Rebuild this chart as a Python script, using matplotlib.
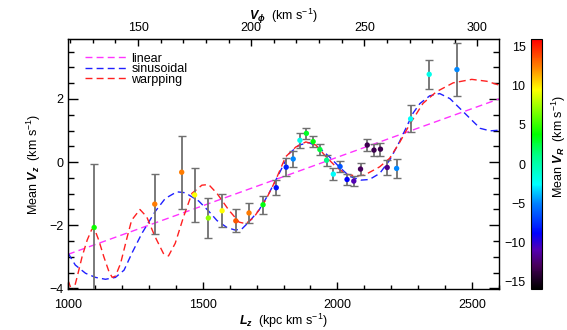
import numpy as np
import matplotlib
matplotlib.use("Agg")
import matplotlib.pyplot as plt
from matplotlib.colors import LinearSegmentedColormap, Normalize
from matplotlib.ticker import MultipleLocator

plt.rcParams['font.family'] = ['Liberation Sans', 'DejaVu Sans']
plt.rcParams['mathtext.fontset'] = 'custom'
plt.rcParams['mathtext.rm'] = 'Liberation Sans'
plt.rcParams['mathtext.it'] = 'Liberation Sans:italic:bold'
plt.rcParams['mathtext.bf'] = 'Liberation Sans:bold'

# data points: angular momentum bins, mean Vz, error, mean VR (colour)
lz = [1097, 1322, 1422, 1470, 1521, 1572, 1623, 1672, 1724, 1773,
      1810, 1836, 1861, 1885, 1910, 1935, 1960, 1985, 2010, 2036,
      2061, 2086, 2111, 2136, 2160, 2185, 2220, 2272, 2341, 2444]
vz = [-2.07, -1.33, -0.32, -1.04, -1.77, -1.54, -1.86, -1.61, -1.35, -0.81,
      -0.16, 0.10, 0.69, 0.91, 0.65, 0.40, 0.06, -0.38, -0.14, -0.55,
      -0.60, -0.22, 0.54, 0.38, 0.41, -0.17, -0.20, 1.37, 2.78, 2.93]
vz_err = [2.0, 0.96, 1.16, 0.85, 0.62, 0.52, 0.36, 0.31, 0.28, 0.24,
          0.29, 0.24, 0.23, 0.18, 0.18, 0.17, 0.18, 0.18, 0.17, 0.17,
          0.17, 0.20, 0.18, 0.20, 0.21, 0.25, 0.29, 0.43, 0.46, 0.85]
vr = [4.0, 12.5, 12.5, 9.5, 7.0, 9.5, 13.5, 12.5, 3.5, -8.5,
      -8.0, -5.0, -2.0, 3.0, 3.5, 2.5, 1.0, -2.5, -6.5, -9.0,
      -11.0, -13.0, -13.5, -13.5, -13.5, -12.0, -5.0, -2.5, -2.0, -5.0]

# model curves
lin_lz = [1000, 2600]
lin_vz = [-2.92, 2.0]

sin_lz = [1000, 1027, 1065, 1102, 1139, 1176, 1208, 1239, 1274, 1323,
          1361, 1404, 1435, 1485, 1522, 1553, 1590, 1620, 1645, 1672,
          1709, 1746, 1784, 1821, 1858, 1895, 1933, 1970, 2007, 2045,
          2088, 2119, 2157, 2194, 2231, 2256, 2281, 2306, 2343, 2380,
          2418, 2455, 2493, 2530, 2567, 2600]
sin_vz = [-2.88, -3.26, -3.52, -3.65, -3.71, -3.65, -3.42, -2.85, -2.26, -1.57,
          -1.15, -0.94, -0.97, -1.23, -1.55, -1.85, -2.07, -2.15, -2.12, -1.89,
          -1.52, -0.99, -0.36, 0.27, 0.54, 0.62, 0.45, 0.17, -0.15, -0.45,
          -0.57, -0.55, -0.36, 0.06, 0.65, 1.1, 1.55, 1.85, 2.1, 2.17,
          2.01, 1.70, 1.38, 1.07, 0.99, 1.01]

warp_lz = [1000, 1018, 1034, 1052, 1071, 1087, 1096, 1114, 1133, 1152,
           1164, 1176, 1195, 1220, 1236, 1267, 1292, 1323, 1354, 1373,
           1398, 1429, 1460, 1497, 1522, 1553, 1597, 1635, 1660, 1690,
           1734, 1771, 1808, 1846, 1883, 1920, 1958, 1995, 2032, 2070,
           2101, 2157, 2194, 2231, 2269, 2318, 2368, 2430, 2499, 2555, 2600]
warp_vz = [-3.75, -4.15, -3.63, -3.0, -2.47, -2.15, -2.07, -2.47, -3.0, -3.47,
           -3.65, -3.61, -3.21, -2.36, -1.84, -1.5, -1.73, -2.36, -2.89, -2.97,
           -2.57, -1.73, -0.99, -0.73, -0.71, -0.99, -1.52, -1.9, -1.95, -1.75,
           -1.2, -0.57, 0.17, 0.48, 0.64, 0.54, 0.17, -0.15, -0.38, -0.44,
           -0.41, -0.15, 0.12, 0.62, 1.2, 1.86, 2.23, 2.51, 2.62, 2.56, 2.44]

R0 = 8.4  # kpc, Lz = R0 * Vphi

cmap = LinearSegmentedColormap.from_list('idl_rainbow', [
    (0.0, (0.0, 0.0, 0.0)),
    (0.094, (0.28, 0.0, 0.36)),
    (0.156, (0.33, 0.0, 0.70)),
    (0.22, (0.0, 0.0, 1.0)),
    (0.34, (0.0, 0.5, 1.0)),
    (0.42, (0.0, 1.0, 1.0)),
    (0.53, (0.0, 1.0, 0.55)),
    (0.62, (0.0, 1.0, 0.0)),
    (0.80, (1.0, 1.0, 0.0)),
    (0.89, (1.0, 0.5, 0.0)),
    (1.0, (1.0, 0.0, 0.0))])
norm = Normalize(vmin=-16, vmax=16)

fig = plt.figure(figsize=(5.67, 3.30), dpi=100)
ax = fig.add_axes([0.120, 0.124, 0.760, 0.758])

ax.plot(lin_lz, lin_vz, color='#ff33ff', lw=1.0, dashes=(5, 3), label='linear')
ax.plot(sin_lz, sin_vz, color='#2020ff', lw=1.0, dashes=(5, 3), label='sinusoidal')
ax.plot(warp_lz, warp_vz, color='#ff2020', lw=1.0, dashes=(5, 3), label='warpping')

eb = ax.errorbar(lz, vz, yerr=vz_err, fmt='none', ecolor='#707070',
                 elinewidth=1.3, capsize=3, capthick=1.0, zorder=3)
for cap in eb[1]:
    cap.set_color('#222222')
ax.scatter(lz, vz, c=vr, cmap=cmap, norm=norm, s=15, edgecolors='none', zorder=4)

ax.set_xlim(1000, 2600)
ax.set_ylim(-4.02, 3.9)
ax.xaxis.set_major_locator(MultipleLocator(500))
ax.xaxis.set_minor_locator(MultipleLocator(100))
ax.yaxis.set_major_locator(MultipleLocator(2))
ax.yaxis.set_minor_locator(MultipleLocator(0.5))
ax.tick_params(which='both', direction='in', top=False, right=True, labelsize=9, width=1)
ax.tick_params(axis='y', which='major', length=7)
ax.tick_params(axis='y', which='minor', length=4)
ax.tick_params(axis='x', which='major', length=5, pad=7)
ax.tick_params(axis='x', which='minor', length=3, pad=7)
for s in ax.spines.values():
    s.set_linewidth(1.0)

ax.set_xlabel(r'$L_z$  (kpc km s$^{-1}$)', fontsize=9, labelpad=1)
ax.set_ylabel(r'Mean $V_z$  (km s$^{-1}$)', fontsize=9, labelpad=4)

top = ax.secondary_xaxis('top', functions=(lambda x: x / R0, lambda v: v * R0))
top.xaxis.set_major_locator(MultipleLocator(50))
top.xaxis.set_minor_locator(MultipleLocator(10))
top.tick_params(which='both', direction='in', labelsize=9, width=1)
top.tick_params(which='major', length=5)
top.tick_params(which='minor', length=3)
top.set_xlabel(r'$V_\phi$  (km s$^{-1}$)', fontsize=9, labelpad=1.5)

leg = ax.legend(loc='upper left', bbox_to_anchor=(0.022, 0.975), frameon=False,
                fontsize=9, handlelength=3.3, handletextpad=0.4,
                labelspacing=-0.12, borderaxespad=0.2)

cax = fig.add_axes([0.9365, 0.124, 0.0194, 0.758])
sm = plt.cm.ScalarMappable(cmap=cmap, norm=norm)
cb = fig.colorbar(sm, cax=cax)
cb.set_ticks([-15, -10, -5, 0, 5, 10, 15])
cb.ax.yaxis.set_ticks_position('left')
cb.ax.tick_params(length=0, labelsize=9, pad=4)
cb.set_label(r'Mean $V_R$  (km s$^{-1}$)', fontsize=9)
cb.ax.yaxis.set_label_position('right')
cb.ax.yaxis.set_label_coords(1.75, 0.57)
cb.outline.set_linewidth(0.8)

fig.savefig('out.png', dpi=100)
